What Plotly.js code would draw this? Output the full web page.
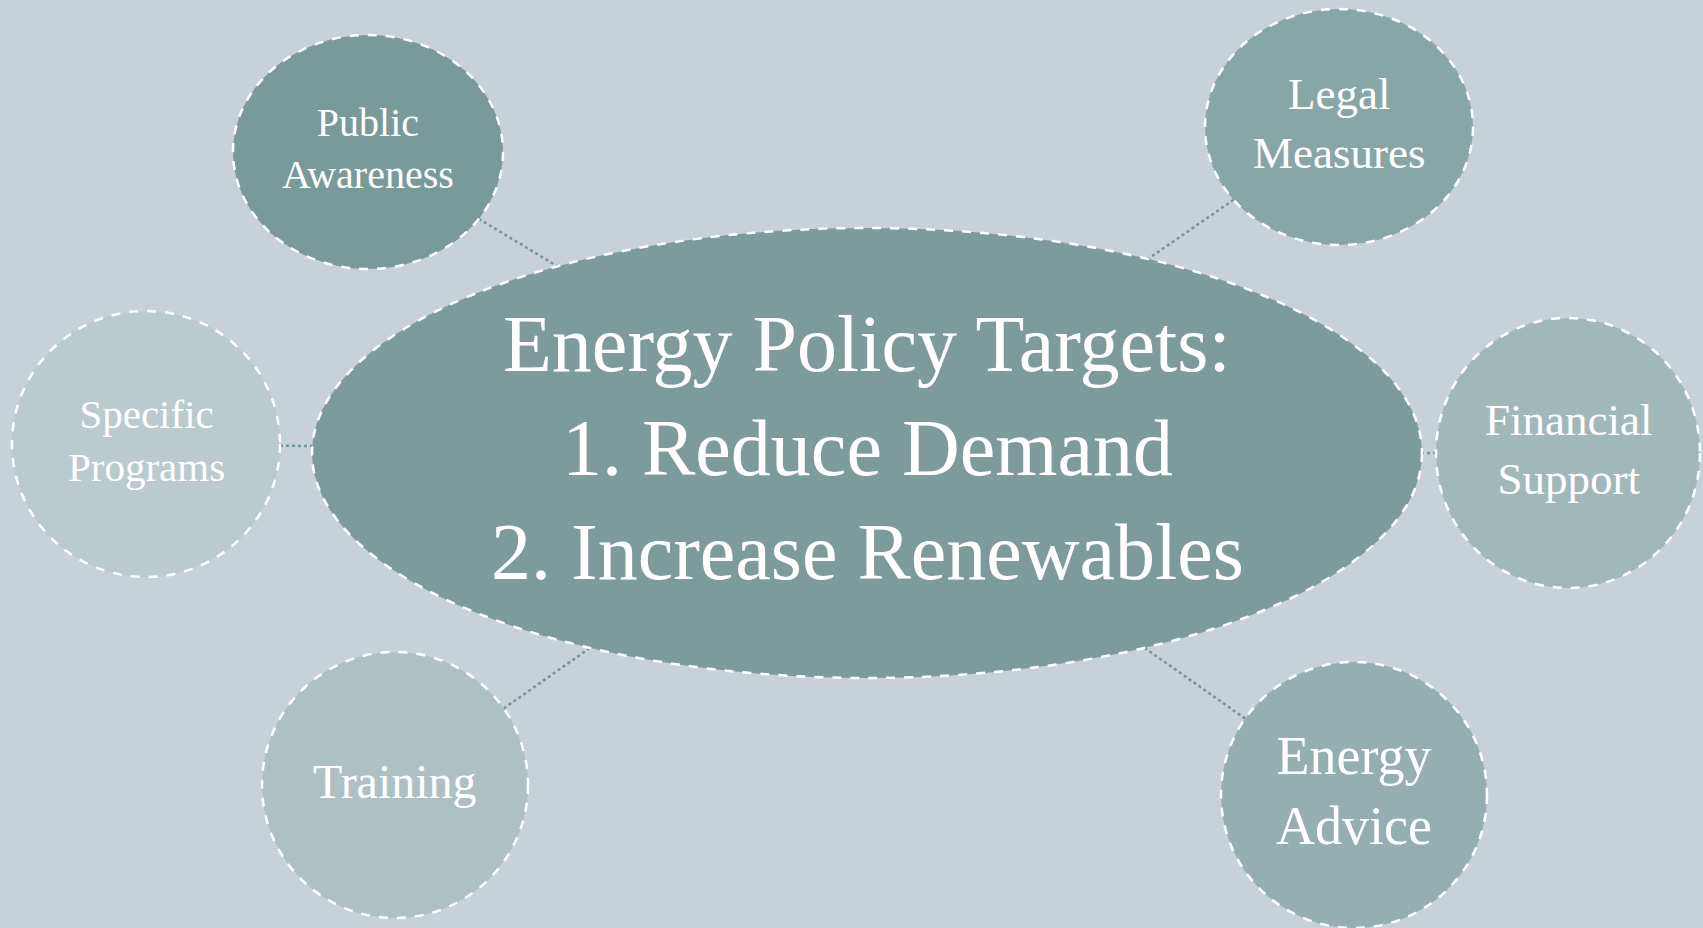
<!DOCTYPE html>
<html>
<head>
<meta charset="utf-8">
<script src="https://cdn.plot.ly/plotly-3.0.1.min.js"></script>
<style>html,body{margin:0;padding:0;background:#C6D2D7;}#chart{width:1703px;height:928px;}</style>
</head>
<body>
<div id="chart"></div>
<script>
// Hub (central target)
const hubLines = ['Energy Policy Targets:', '1. Reduce Demand', '2. Increase Renewables'];
const hubX = 867, hubY = 453, hubRX = 555, hubRY = 225;
const hubColor = '#7E9B9C';

// Satellite nodes (policy instruments)
const nodeLabels = ['Public<br>Awareness', 'Legal<br>Measures', 'Specific<br>Programs', 'Financial<br>Support', 'Training', 'Energy<br>Advice'];
const nodeX  = [368, 1339, 146, 1568, 395, 1354];
const nodeY  = [152, 127, 444, 453, 785, 795];
const nodeRX = [135, 134, 134, 132, 133, 133];
const nodeRY = [117, 118, 133, 135, 133, 133];
const nodeColors = ['#7A9999', '#89A6A7', '#B9CBCC', '#A1B8B9', '#ADC1C2', '#95AFB0'];
const nodeFontSize = [40, 45, 41, 45, 48, 54];

const FONT = '"Liberation Serif", "DejaVu Serif", serif';
const shapes = [];
const annotations = [];

// connectors: from node boundary to hub boundary along centre line
function ellipseDist(ux, uy, rx, ry) {
  return 1 / Math.sqrt((ux / rx) ** 2 + (uy / ry) ** 2);
}
for (let i = 0; i < nodeLabels.length; i++) {
  const dx = hubX - nodeX[i], dy = hubY - nodeY[i];
  const len = Math.hypot(dx, dy);
  const ux = dx / len, uy = dy / len;
  const t = ellipseDist(ux, uy, nodeRX[i], nodeRY[i]);
  const s = ellipseDist(ux, uy, hubRX, hubRY);
  shapes.push({
    type: 'line', xref: 'x', yref: 'y', layer: 'below',
    x0: nodeX[i] + ux * t, y0: nodeY[i] + uy * t,
    x1: hubX - ux * s, y1: hubY - uy * s,
    line: {color: '#6F9699', width: 2.5, dash: 'dot'}
  });
}
// hub ellipse
shapes.push({
  type: 'circle', xref: 'x', yref: 'y', layer: 'above',
  x0: hubX - hubRX, x1: hubX + hubRX, y0: hubY - hubRY, y1: hubY + hubRY,
  fillcolor: hubColor, line: {color: '#FFFFFF', width: 2.5, dash: 'dash'}
});
// node circles
for (let i = 0; i < nodeLabels.length; i++) {
  shapes.push({
    type: 'circle', xref: 'x', yref: 'y', layer: 'above',
    x0: nodeX[i] - nodeRX[i], x1: nodeX[i] + nodeRX[i],
    y0: nodeY[i] - nodeRY[i], y1: nodeY[i] + nodeRY[i],
    fillcolor: nodeColors[i], line: {color: '#FFFFFF', width: 2.5, dash: 'dash'}
  });
}
// hub text
const hubGap = 104;
hubLines.forEach((ln, k) => {
  annotations.push({
    x: hubX, y: hubY - 5 + (k - (hubLines.length - 1) / 2) * hubGap,
    xref: 'x', yref: 'y', text: ln, showarrow: false,
    xanchor: 'center', yanchor: 'middle',
    font: {family: FONT, size: 80, color: '#FFFFFF'}
  });
});
// node text
for (let i = 0; i < nodeLabels.length; i++) {
  annotations.push({
    x: nodeX[i], y: nodeY[i] - 4,
    xref: 'x', yref: 'y', text: nodeLabels[i], showarrow: false,
    xanchor: 'center', yanchor: 'middle', align: 'center',
    font: {family: FONT, size: nodeFontSize[i], color: '#FFFFFF'}
  });
}

const layout = {
  width: 1703, height: 928,
  margin: {l: 0, r: 0, t: 0, b: 0, pad: 0},
  paper_bgcolor: '#C6D2D7', plot_bgcolor: '#C6D2D7',
  showlegend: false,
  xaxis: {range: [0, 1703], visible: false, fixedrange: true},
  yaxis: {range: [928, 0], visible: false, fixedrange: true},
  shapes: shapes, annotations: annotations
};
Plotly.newPlot('chart', [{x: [], y: [], type: 'scatter', mode: 'markers', hoverinfo: 'skip'}], layout, {displayModeBar: false, staticPlot: true});
</script>
</body>
</html>
